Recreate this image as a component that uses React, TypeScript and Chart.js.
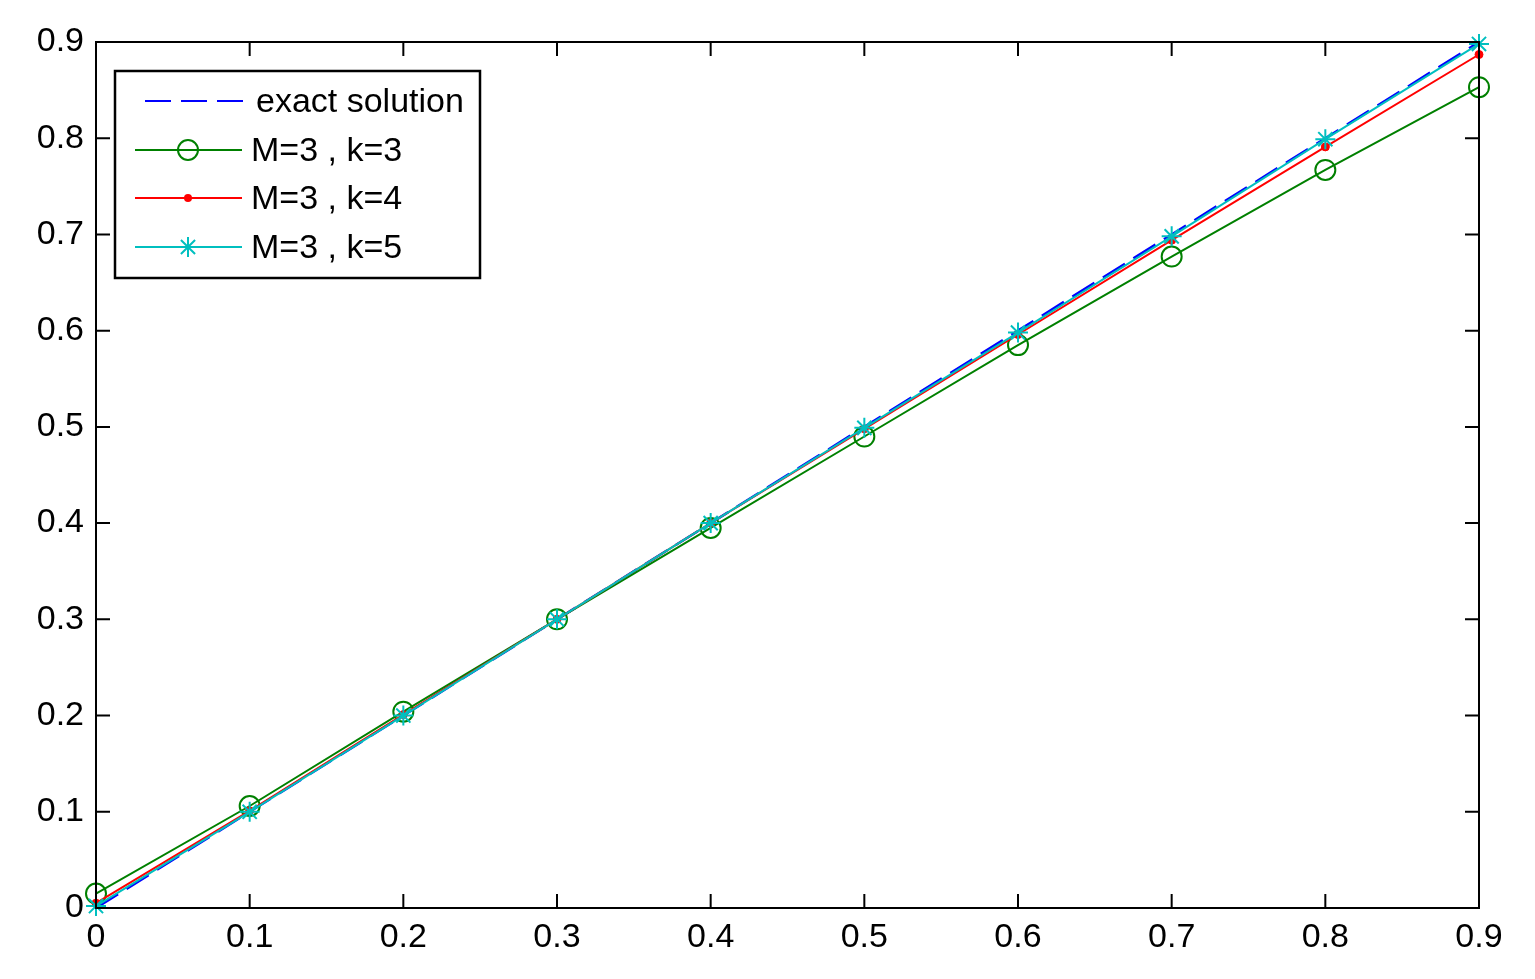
import React, { useEffect, useRef } from "react";
import { Chart, registerables } from "chart.js";
Chart.register(...registerables);

const xValues = [0, 0.1, 0.2, 0.3, 0.4, 0.5, 0.6, 0.7, 0.8, 0.9];
const exactValues = [0, 0.1, 0.2, 0.3, 0.4, 0.5, 0.6, 0.7, 0.8, 0.9];
const k3Values = [0.015, 0.106, 0.204, 0.3, 0.395, 0.49, 0.585, 0.677, 0.767, 0.853];
const k4Values = [0.005, 0.101, 0.201, 0.3, 0.4, 0.498, 0.596, 0.694, 0.791, 0.887];
const k5Values = [0.002, 0.1, 0.2, 0.3, 0.4, 0.499, 0.598, 0.698, 0.799, 0.898];
const seriesLabels = ["exact solution", "M=3 , k=3", "M=3 , k=4", "M=3 , k=5"];
const tickValues = [0, 0.1, 0.2, 0.3, 0.4, 0.5, 0.6, 0.7, 0.8, 0.9];

const FONT = "Liberation Sans, Arial, sans-serif";
const FONT_SIZE = 34;
const BLUE = "#0000FF";
const GREEN = "#008000";
const RED = "#FF0000";
const CYAN = "#00BFBF";

const toPts = (ys: number[]) => xValues.map((x, i) => ({ x, y: ys[i] }));

function drawMarker(ctx: CanvasRenderingContext2D, kind: string, x: number, y: number, color: string) {
  ctx.save();
  ctx.strokeStyle = color;
  ctx.fillStyle = color;
  ctx.lineWidth = 2;
  if (kind === "circle") {
    ctx.beginPath();
    ctx.arc(x, y, 10, 0, Math.PI * 2);
    ctx.stroke();
  } else if (kind === "dot") {
    ctx.beginPath();
    ctx.arc(x, y, 4, 0, Math.PI * 2);
    ctx.fill();
  } else if (kind === "star") {
    const r = 10;
    const d = r * Math.SQRT1_2;
    ctx.beginPath();
    ctx.moveTo(x - r, y); ctx.lineTo(x + r, y);
    ctx.moveTo(x, y - r); ctx.lineTo(x, y + r);
    ctx.moveTo(x - d, y - d); ctx.lineTo(x + d, y + d);
    ctx.moveTo(x - d, y + d); ctx.lineTo(x + d, y - d);
    ctx.stroke();
  }
  ctx.restore();
}

const framePlugin = {
  id: "matlabFrame",
  afterDraw(chart: any) {
    const ctx: CanvasRenderingContext2D = chart.ctx;
    const { left, right, top, bottom } = chart.chartArea;
    const xs = chart.scales.x;
    const ys = chart.scales.y;
    ctx.save();
    ctx.strokeStyle = "#000";
    ctx.lineWidth = 2;
    ctx.strokeRect(left, top, right - left, bottom - top);
    const tl = 14;
    ctx.beginPath();
    tickValues.forEach((v) => {
      const px = xs.getPixelForValue(v);
      ctx.moveTo(px, bottom); ctx.lineTo(px, bottom - tl);
      ctx.moveTo(px, top); ctx.lineTo(px, top + tl);
      const py = ys.getPixelForValue(v);
      ctx.moveTo(left, py); ctx.lineTo(left + tl, py);
      ctx.moveTo(right, py); ctx.lineTo(right - tl, py);
    });
    ctx.stroke();

    // legend
    const bx = 115, by = 71, bw = 365, bh = 207;
    ctx.fillStyle = "#fff";
    ctx.fillRect(bx, by, bw, bh);
    ctx.lineWidth = 2.5;
    ctx.strokeRect(bx, by, bw, bh);
    const rows = [101, 150, 198, 247];
    const colors = [BLUE, GREEN, RED, CYAN];
    const markers = ["none", "circle", "dot", "star"];
    ctx.font = `${FONT_SIZE}px ${FONT}`;
    ctx.textBaseline = "middle";
    ctx.textAlign = "left";
    rows.forEach((ry, i) => {
      ctx.save();
      ctx.strokeStyle = colors[i];
      ctx.lineWidth = 2;
      ctx.beginPath();
      if (i === 0) {
        ctx.setLineDash([26, 10]);
        ctx.moveTo(145, ry); ctx.lineTo(243, ry);
      } else {
        ctx.moveTo(135, ry); ctx.lineTo(242, ry);
      }
      ctx.stroke();
      ctx.restore();
      if (markers[i] !== "none") drawMarker(ctx, markers[i], 188, ry, colors[i]);
      ctx.fillStyle = "#000";
      ctx.fillText(seriesLabels[i], i === 0 ? 256 : 251, ry + 2);
    });
    ctx.restore();
  },
};

export default function App() {
  const ref = useRef<HTMLCanvasElement>(null);
  useEffect(() => {
    document.body.style.margin = "0";
    document.body.style.background = "#fff";
    const canvas = ref.current!;
    const chart = new Chart(canvas, {
      type: "line",
      data: {
        datasets: [
          {
            label: seriesLabels[0], data: toPts(exactValues), borderColor: BLUE, borderWidth: 2.5,
            borderDash: [26, 10], pointRadius: 0, order: 4, clip: false as any,
          },
          {
            label: seriesLabels[1], data: toPts(k3Values), borderColor: GREEN, borderWidth: 2,
            pointStyle: "circle", pointRadius: 10, pointBorderWidth: 2, pointBorderColor: GREEN,
            pointBackgroundColor: "rgba(0,0,0,0)", order: 3, clip: false as any,
          },
          {
            label: seriesLabels[2], data: toPts(k4Values), borderColor: RED, borderWidth: 2,
            pointStyle: "circle", pointRadius: 4, pointBorderWidth: 1, pointBorderColor: RED,
            pointBackgroundColor: RED, order: 2, clip: false as any,
          },
          {
            label: seriesLabels[3], data: toPts(k5Values), borderColor: CYAN, borderWidth: 2,
            pointStyle: "star", pointRadius: 10, pointBorderWidth: 2, pointBorderColor: CYAN,
            pointBackgroundColor: CYAN, order: 1, clip: false as any,
          },
        ],
      },
      options: {
        responsive: false,
        animation: false,
        events: [],
        layout: { padding: { left: 0, right: 56, top: 42, bottom: 0 } },
        plugins: { legend: { display: false }, tooltip: { enabled: false } },
        scales: {
          x: {
            type: "linear", min: 0, max: 0.9,
            grid: { display: false, drawTicks: false },
            border: { display: false },
            afterFit: (s: any) => { s.height = 71; },
            afterBuildTicks: (s: any) => { s.ticks = tickValues.map((v) => ({ value: v })); },
            ticks: {
              color: "#000", padding: 9, font: { family: FONT, size: FONT_SIZE },
              callback: (v: any) => String(+Number(v).toFixed(1)),
              maxRotation: 0, autoSkip: false,
            },
          },
          y: {
            type: "linear", min: 0, max: 0.9,
            grid: { display: false, drawTicks: false },
            border: { display: false },
            afterFit: (s: any) => { s.width = 96; },
            afterBuildTicks: (s: any) => { s.ticks = tickValues.map((v) => ({ value: v })); },
            ticks: {
              color: "#000", padding: 12, font: { family: FONT, size: FONT_SIZE },
              callback: (v: any) => String(+Number(v).toFixed(1)),
              autoSkip: false,
            },
          },
        },
      },
      plugins: [framePlugin],
    });
    return () => chart.destroy();
  }, []);
  return <canvas ref={ref} width={1535} height={979} style={{ display: "block" }} />;
}
